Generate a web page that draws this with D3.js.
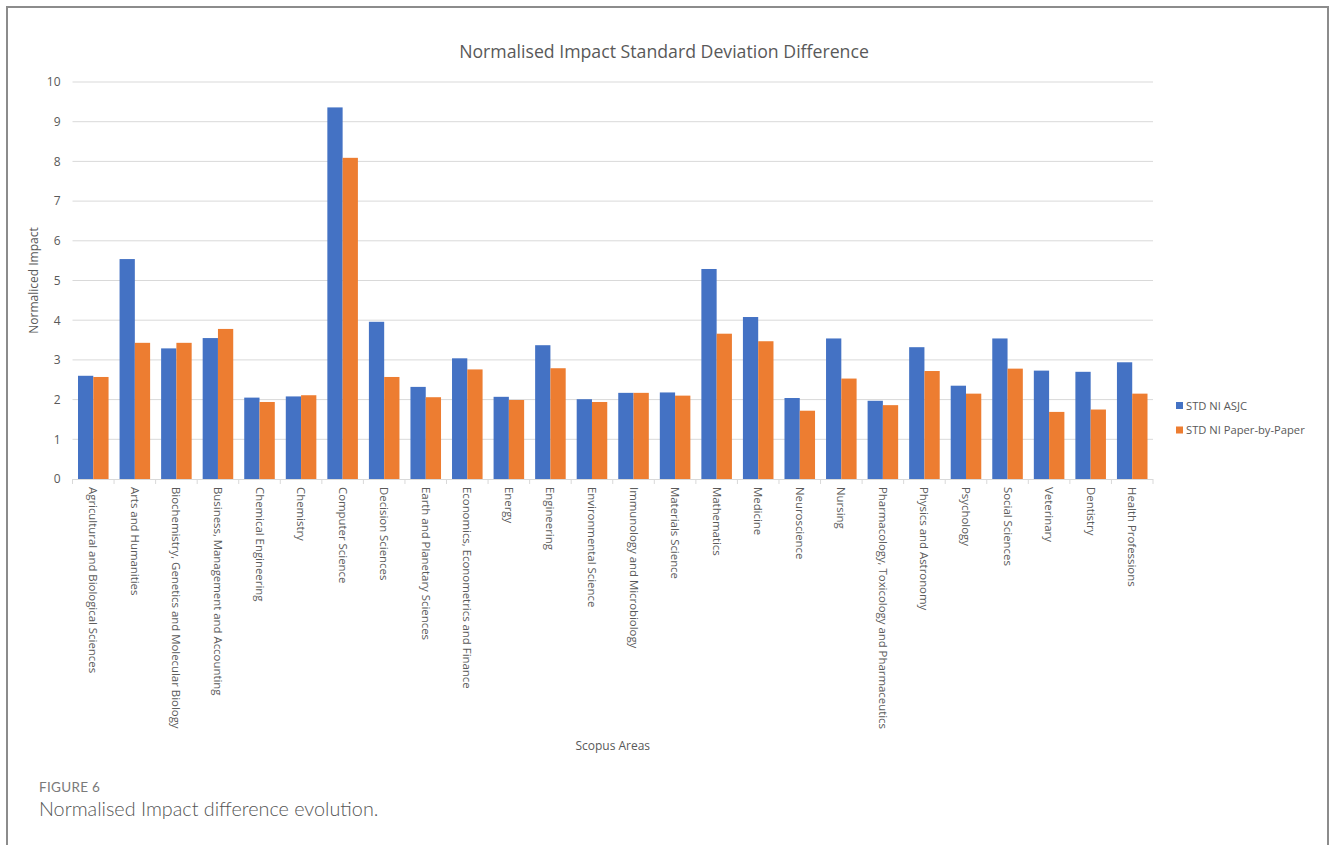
<!DOCTYPE html>
<html>
<head>
<meta charset="utf-8">
<script src="https://cdn.jsdelivr.net/npm/d3@7"></script>
<style>
  html, body { margin: 0; padding: 0; background: #fff; }
  svg { display: block; }
  text { font-family: "Open Sans", "Noto Sans", sans-serif; }
</style>
</head>
<body>
<svg id="chart" width="1330" height="845"></svg>
<script>
// Scopus subject areas
const categories = [
  "Agricultural and Biological Sciences",
  "Arts and Humanities",
  "Biochemistry, Genetics and Molecular Biology",
  "Business, Management and Accounting",
  "Chemical Engineering",
  "Chemistry",
  "Computer Science",
  "Decision Sciences",
  "Earth and Planetary Sciences",
  "Economics, Econometrics and Finance",
  "Energy",
  "Engineering",
  "Environmental Science",
  "Immunology and Microbiology",
  "Materials Science",
  "Mathematics",
  "Medicine",
  "Neuroscience",
  "Nursing",
  "Pharmacology, Toxicology and Pharmaceutics",
  "Physics and Astronomy",
  "Psychology",
  "Social Sciences",
  "Veterinary",
  "Dentistry",
  "Health Professions"
];

const seriesNames = ["STD NI ASJC", "STD NI Paper-by-Paper"];

const stdAsjc = [2.60, 5.54, 3.29, 3.55, 2.05, 2.08, 9.36, 3.96, 2.32, 3.04,
                 2.07, 3.37, 2.01, 2.17, 2.18, 5.29, 4.08, 2.04, 3.54, 1.97,
                 3.32, 2.35, 3.54, 2.73, 2.70, 2.94];

const stdPaper = [2.57, 3.43, 3.43, 3.78, 1.94, 2.11, 8.09, 2.57, 2.06, 2.76,
                  1.99, 2.79, 1.94, 2.17, 2.10, 3.66, 3.47, 1.72, 2.53, 1.86,
                  2.72, 2.15, 2.78, 1.69, 1.75, 2.15];

const yTicks = [0, 1, 2, 3, 4, 5, 6, 7, 8, 9, 10];

const colors = ["#4472C4", "#ED7D31"];

const svg = d3.select("#chart");

// Figure frame (open at the bottom)
svg.append("path")
  .attr("d", "M7,845 V7 H1328 V845")
  .attr("fill", "none")
  .attr("stroke", "#8c8c8c")
  .attr("stroke-width", 2);

const plot = { left: 72.5, right: 1153, top: 82, bottom: 479 };

const x = d3.scaleBand()
  .domain(categories)
  .range([plot.left, plot.right])
  .padding(0);

const xInner = d3.scaleBand()
  .domain(seriesNames)
  .range([0, x.bandwidth()])
  .paddingInner(0)
  .paddingOuter(0.36);

const y = d3.scaleLinear()
  .domain([0, 10])
  .range([plot.bottom, plot.top]);

// Horizontal gridlines
svg.append("g")
  .selectAll("line")
  .data(yTicks.filter(d => d > 0))
  .join("line")
  .attr("x1", plot.left)
  .attr("x2", plot.right)
  .attr("y1", d => y(d))
  .attr("y2", d => y(d))
  .attr("stroke", "#d9d9d9")
  .attr("stroke-width", 1);

// Y axis tick labels
const yAxis = d3.axisLeft(y).tickValues(yTicks).tickSize(0).tickPadding(12);
const gy = svg.append("g")
  .attr("transform", `translate(${plot.left},0)`)
  .call(yAxis);
gy.select(".domain").remove();
gy.selectAll("text")
  .attr("fill", "#595959")
  .style("font-size", "12px")
  .style("font-family", "'Open Sans', sans-serif");

// Bars
const rows = categories.map((c, i) => ({ cat: c, values: [stdAsjc[i], stdPaper[i]] }));

const groups = svg.append("g")
  .selectAll("g")
  .data(rows)
  .join("g")
  .attr("transform", d => `translate(${x(d.cat)},0)`);

groups.selectAll("rect")
  .data(d => d.values.map((v, k) => ({ key: seriesNames[k], value: v, k })))
  .join("rect")
  .attr("x", d => xInner(d.key))
  .attr("width", xInner.bandwidth())
  .attr("y", d => y(d.value))
  .attr("height", d => y(0) - y(d.value))
  .attr("fill", d => colors[d.k]);

// X axis
const xAxis = d3.axisBottom(x).tickSize(0).tickFormat("");
const gx = svg.append("g")
  .attr("transform", `translate(0,${plot.bottom})`)
  .call(xAxis);
gx.select(".domain").attr("stroke", "#d9d9d9").attr("stroke-width", 1)
  .attr("d", `M${plot.left},0.5H${plot.right}`);

// Tick marks on category boundaries
const boundaries = categories.map(c => x(c)).concat([plot.right]);
svg.append("g")
  .selectAll("line")
  .data(boundaries)
  .join("line")
  .attr("x1", d => d)
  .attr("x2", d => d)
  .attr("y1", plot.bottom)
  .attr("y2", plot.bottom + 5)
  .attr("stroke", "#d9d9d9")
  .attr("stroke-width", 1);

// Rotated category labels
svg.append("g")
  .selectAll("text")
  .data(categories)
  .join("text")
  .attr("transform", d => `translate(${x(d) + x.bandwidth() / 2},${plot.bottom + 8}) rotate(90)`)
  .attr("dy", "0.35em")
  .attr("text-anchor", "start")
  .attr("fill", "#595959")
  .style("font-size", "11.4px")
  .text(d => d);

// Chart title
svg.append("text")
  .attr("x", 664)
  .attr("y", 58)
  .attr("text-anchor", "middle")
  .attr("fill", "#595959")
  .style("font-size", "17.7px")
  .text("Normalised Impact Standard Deviation Difference");

// Axis titles
svg.append("text")
  .attr("transform", `translate(38,${(plot.top + plot.bottom) / 2}) rotate(-90)`)
  .attr("text-anchor", "middle")
  .attr("fill", "#595959")
  .style("font-size", "12px")
  .text("Normaliced Impact");

svg.append("text")
  .attr("x", (plot.left + plot.right) / 2)
  .attr("y", 750)
  .attr("text-anchor", "middle")
  .attr("fill", "#595959")
  .style("font-size", "12px")
  .text("Scopus Areas");

// Legend
const legend = svg.append("g")
  .selectAll("g")
  .data(seriesNames)
  .join("g")
  .attr("transform", (d, i) => `translate(1176,${406 + i * 24.5})`);

legend.append("rect")
  .attr("x", 0)
  .attr("y", -4)
  .attr("width", 7)
  .attr("height", 7)
  .attr("fill", (d, i) => colors[i]);

legend.append("text")
  .attr("x", 10)
  .attr("dy", "0.35em")
  .attr("fill", "#595959")
  .style("font-size", "11.2px")
  .text(d => d);

// Figure caption
svg.append("text")
  .attr("x", 39)
  .attr("y", 792)
  .attr("fill", "#7a7a7a")
  .style("font-family", "Lato, 'Open Sans', sans-serif")
  .style("font-size", "13.5px")
  .style("letter-spacing", "0.3px")
  .text("FIGURE 6");

svg.append("text")
  .attr("x", 39)
  .attr("y", 816)
  .attr("fill", "#555555")
  .style("font-family", "Lato, 'Open Sans', sans-serif")
  .style("font-size", "19.8px")
  .style("font-weight", "300")
  .text("Normalised Impact difference evolution.");
</script>
</body>
</html>
